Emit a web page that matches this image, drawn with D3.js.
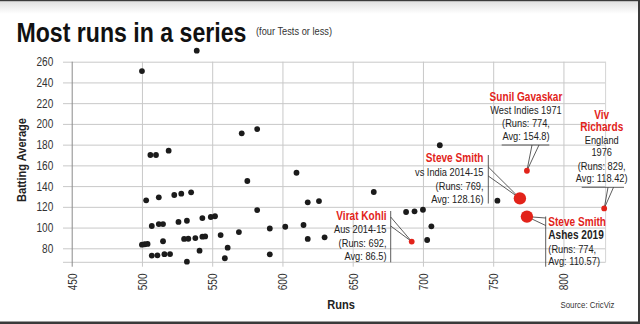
<!DOCTYPE html>
<html>
<head>
<meta charset="utf-8">
<script src="https://cdn.jsdelivr.net/npm/d3@7"></script>
<style>
  html, body { margin: 0; padding: 0; background: #fff; }
  svg { display: block; }
  text { font-family: "Liberation Sans", Arial, sans-serif; }
</style>
</head>
<body>
<svg id="chart" width="640" height="324"></svg>
<script>
// ---------- data ----------
const titleText = "Most runs in a series";
const subtitleText = "(four Tests or less)";
const yAxisTitle = "Batting Average";
const xAxisTitle = "Runs";
const sourceText = "Source: CricViz";

const xTicks = [450, 500, 550, 600, 650, 700, 750, 800];
const yTicks = [80, 100, 120, 140, 160, 180, 200, 220, 240, 260];

// other series (runs, average)
const otherRuns = [500, 539, 506, 510, 519, 571, 582, 575, 582, 591, 602, 591,
  503, 512, 523, 528, 535, 507, 512, 515, 526, 532, 543, 549, 552,
  500, 502, 504, 515, 530, 533, 538, 543, 545, 556, 569, 541, 561, 559,
  507, 511, 516, 520, 532, 610, 665, 618, 626, 615, 618, 630,
  688, 694, 700, 706, 703, 712, 753];
const otherAvg = [251.0, 270.6, 170.0, 170.0, 174.2, 190.9, 195.0, 144.9, 116.9, 99.1, 100.8, 74.2,
  126.3, 129.2, 131.4, 132.7, 134.0, 101.5, 103.4, 103.4, 105.4, 106.6, 109.2, 110.2, 110.9,
  83.5, 83.9, 84.2, 86.8, 89.0, 89.2, 89.9, 91.2, 91.5, 92.8, 95.7, 77.7, 80.6, 70.4,
  73.0, 73.2, 74.3, 74.4, 67.1, 152.9, 134.3, 124.4, 125.6, 102.5, 89.0, 90.6,
  115.0, 115.7, 117.2, 101.2, 88.0, 179.4, 125.9];

// highlighted series
const hlNames = ["Virat Kohli", "Steve Smith", "Sunil Gavaskar", "Viv Richards", "Steve Smith"];
const hlRuns = [692, 769, 774, 829, 774];
const hlAvg = [86.5, 128.16, 154.8, 118.42, 110.57];
const hlBig = [false, true, false, false, true];

// ---------- layout ----------
const svg = d3.select("#chart");
const W = 640, H = 324;
const SX = 0.82; // horizontal condensing of the font
const plotLeft = 71.7, plotRight = 605.6, plotTop = 61.7, plotBottom = 262.3;
const red = "#e2231a";
const dark = "#1b1b1b";

const x = d3.scaleLinear().domain([450, 830]).range([plotLeft, plotRight]);
const y = d3.scaleLinear().domain([66.5, 260]).range([plotBottom, plotTop]);

// condensed text helper
function ctext(parent, xp, yp, str, o = {}) {
  return parent.append("text")
    .attr("transform", `translate(${xp},${yp})${o.rot ? ` rotate(${o.rot})` : ""} scale(${o.sx || SX},1)`)
    .attr("text-anchor", o.anchor || "start")
    .attr("font-size", o.size || 11)
    .attr("font-weight", o.bold ? 700 : 400)
    .attr("fill", o.fill || "#222")
    .text(str);
}

// frame + top gradient
const defs = svg.append("defs");
const grad = defs.append("linearGradient").attr("id", "topg").attr("x1", 0).attr("x2", 0).attr("y1", 0).attr("y2", 1);
grad.append("stop").attr("offset", "0%").attr("stop-color", "#dcdcdc");
grad.append("stop").attr("offset", "100%").attr("stop-color", "#ffffff");
svg.append("rect").attr("x", 0).attr("y", 0).attr("width", W).attr("height", 14).attr("fill", "url(#topg)");
svg.append("rect").attr("x", 0).attr("y", 0).attr("width", W).attr("height", 1.2).attr("fill", "#3a3a3a");
svg.append("rect").attr("x", 638).attr("y", 0).attr("width", 2).attr("height", H).attr("fill", "#3a3a3a");
svg.append("rect").attr("x", 0).attr("y", 321.5).attr("width", W).attr("height", 2.5).attr("fill", "#3a3a3a");

// title
ctext(svg, 16.5, 41.5, titleText, { size: 27, bold: true, fill: "#111", sx: 0.856 });
ctext(svg, 256, 34.5, subtitleText, { size: 11.3, fill: "#333" });

// y axis + horizontal grid
const gy = svg.append("g").attr("transform", `translate(63,0)`)
  .call(d3.axisLeft(y).tickValues(yTicks).tickSize(-(plotRight - 63)).tickPadding(9.7));
gy.select(".domain").remove();
gy.selectAll(".tick line").attr("stroke", "#c8c8c8").attr("stroke-width", 1);
gy.selectAll(".tick text").attr("font-size", 12.3).attr("fill", "#333")
  .attr("x", null).attr("transform", `translate(-9.7,0) scale(${SX},1)`);
// bottom baseline
svg.append("line").attr("x1", 63).attr("x2", plotRight)
  .attr("y1", y.range()[0]).attr("y2", y.range()[0])
  .attr("stroke", "#c8c8c8").attr("stroke-width", 1);

// x axis + vertical grid
const tickBase = plotBottom + 4.4;
const gx = svg.append("g").attr("transform", `translate(0,${tickBase})`)
  .call(d3.axisBottom(x).tickValues(xTicks).tickSize(-(tickBase - plotTop)));
gx.select(".domain").remove();
gx.selectAll(".tick line").attr("stroke", d => d === 450 ? "#8a8a8a" : "#c8c8c8").attr("stroke-width", 1);
gx.selectAll(".tick text")
  .attr("font-size", 12.3).attr("fill", "#333")
  .attr("text-anchor", "end")
  .attr("x", 0).attr("y", 0).attr("dy", "0.36em")
  .attr("transform", `translate(0,6.8) rotate(-90) scale(${SX},1)`);
// right edge line
svg.append("line").attr("x1", plotRight).attr("x2", plotRight)
  .attr("y1", plotTop).attr("y2", plotBottom)
  .attr("stroke", "#d4d4d4").attr("stroke-width", 1);

// axis titles
ctext(svg, 26, 160, yAxisTitle, { rot: -90, anchor: "middle", size: 13.5, bold: true, fill: "#222" });
ctext(svg, 341, 308.5, xAxisTitle, { anchor: "middle", size: 13.5, bold: true, fill: "#222" });
ctext(svg, 614.5, 307.5, sourceText, { anchor: "end", size: 9.6, fill: "#333" });

// other points
const others = otherRuns.map((r, i) => ({ r, a: otherAvg[i] }));
svg.append("g").selectAll("circle").data(others).join("circle")
  .attr("cx", d => x(d.r)).attr("cy", d => y(d.a)).attr("r", 2.9).attr("fill", dark);

// annotation leader lines
const leader = svg.append("g").attr("stroke", "#333").attr("stroke-width", 0.8).attr("fill", "none");
function wedge(p1, p2, q) {
  leader.append("path").attr("d", `M${p1[0]},${p1[1]}L${q[0]},${q[1]}L${p2[0]},${p2[1]}`);
}
const hp = hlRuns.map((r, i) => [x(r), y(hlAvg[i])]);
// Kohli
leader.append("line").attr("x1", 390.7).attr("x2", 390.7).attr("y1", 211).attr("y2", plotBottom);
wedge([390.7, 217], [390.7, 226], hp[0]);
// Smith 2014-15
leader.append("line").attr("x1", 488.3).attr("x2", 488.3).attr("y1", 155).attr("y2", 203.5);
wedge([488.3, 167], [488.3, 176], hp[1]);
// Gavaskar
leader.append("line").attr("x1", 501.7).attr("x2", 549.3).attr("y1", 145).attr("y2", 145);
wedge([532, 145], [539, 145], hp[2]);
// Richards
leader.append("line").attr("x1", 581.7).attr("x2", 624).attr("y1", 187.3).attr("y2", 187.3);
wedge([608, 187.3], [613.5, 187.3], hp[3]);
// Smith Ashes
leader.append("line").attr("x1", 545.7).attr("x2", 545.7).attr("y1", 216.5).attr("y2", 266.7);
wedge([545.7, 218], [545.7, 225.5], hp[4]);

// highlighted points
svg.append("g").selectAll("circle").data(hlRuns.map((r, i) => ({ r, a: hlAvg[i], big: hlBig[i] })))
  .join("circle")
  .attr("cx", d => x(d.r)).attr("cy", d => y(d.a))
  .attr("r", d => d.big ? 6.2 : 2.9).attr("fill", red);

// annotation texts
function block(xp, yp, anchor, lines) {
  lines.forEach(l => {
    ctext(svg, xp, yp + l.dy, l.t, {
      anchor, size: l.bold ? 12.3 : 11.3, bold: l.bold, fill: l.red ? red : "#222"
    });
  });
}
block(386.5, 219.5, "end", [
  { t: hlNames[0], dy: 0, bold: true, red: true },
  { t: "Aus 2014-15", dy: 13.5 },
  { t: `(Runs: ${hlRuns[0]},`, dy: 27 },
  { t: `Avg: ${hlAvg[0]})`, dy: 40 }
]);
block(483.5, 162, "end", [
  { t: hlNames[1], dy: 0, bold: true, red: true },
  { t: "vs India 2014-15", dy: 14 },
  { t: `(Runs: ${hlRuns[1]},`, dy: 27.5 },
  { t: `Avg: ${hlAvg[1]})`, dy: 40.5 }
]);
block(526, 100.5, "middle", [
  { t: hlNames[2], dy: 0, bold: true, red: true },
  { t: "West Indies 1971", dy: 13 },
  { t: `(Runs: ${hlRuns[2]},`, dy: 26.5 },
  { t: `Avg: ${hlAvg[2]})`, dy: 39 }
]);
block(601.7, 118.5, "middle", [
  { t: "Viv", dy: 0, bold: true, red: true },
  { t: "Richards", dy: 12.5, bold: true, red: true },
  { t: "England", dy: 25.5 },
  { t: "1976", dy: 37.5 },
  { t: `(Runs: ${hlRuns[3]},`, dy: 51.5 },
  { t: `Avg: ${hlAvg[3]})`, dy: 63.5 }
]);
block(548.3, 226, "start", [
  { t: hlNames[4], dy: 0, bold: true, red: true },
  { t: "Ashes 2019", dy: 13, bold: true },
  { t: `(Runs: ${hlRuns[4]},`, dy: 26.5 },
  { t: `Avg: ${hlAvg[4]})`, dy: 39 }
]);
</script>
</body>
</html>
